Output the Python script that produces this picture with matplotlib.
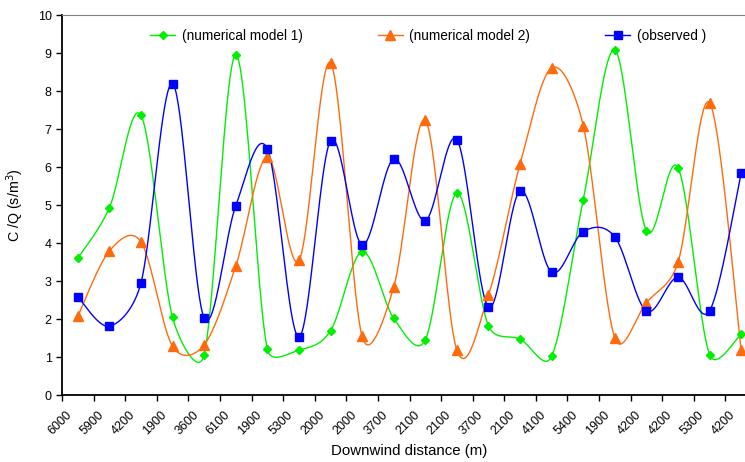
import numpy as np
import matplotlib
matplotlib.use("Agg")
import matplotlib.pyplot as plt
from matplotlib.lines import Line2D

plt.rcParams['font.family'] = ['Liberation Sans', 'DejaVu Sans']

distances = ["6000", "5900", "4200", "1900", "3600", "6100", "1900", "5300", "2000", "2000", "3700",
             "2100", "2100", "3700", "2100", "4100", "5400", "1900", "4200", "4200", "5300", "4200"]
model1 = [3.6, 4.93, 7.36, 2.04, 1.06, 8.95, 1.2, 1.18, 1.69, 3.77, 2.02,
          1.45, 5.31, 1.82, 1.47, 1.02, 5.14, 9.07, 4.32, 5.98, 1.06, 1.6]
model2 = [2.07, 3.79, 4.03, 1.28, 1.32, 3.39, 6.26, 3.54, 8.74, 1.54, 2.84,
          7.23, 1.18, 2.63, 6.08, 8.61, 7.09, 1.5, 2.43, 3.49, 7.69, 1.18]
observed = [2.58, 1.81, 2.95, 8.19, 2.03, 4.98, 6.48, 1.53, 6.69, 3.95, 6.21,
            4.59, 6.72, 2.31, 5.37, 3.23, 4.3, 4.16, 2.21, 3.1, 2.22, 5.84]

FIG_W, FIG_H = 745, 462
AX_L, AX_B, AX_W, AX_H = 62, 67, 695, 380


def smooth(xs, ys, sx, sy, n=40):
    """Excel-like smoothed line (Bezier, control arms limited to half the segment)."""
    P = np.column_stack([np.asarray(xs, float) * sx, np.asarray(ys, float) * sy])
    Pe = np.vstack([P[0], P, P[-1]])
    t = np.linspace(0, 1, n)[:, None]
    out = []
    for i in range(len(P) - 1):
        p0, p1, p2, p3 = Pe[i], Pe[i + 1], Pe[i + 2], Pe[i + 3]
        d12 = np.linalg.norm(p2 - p1)
        d02 = np.linalg.norm(p2 - p0)
        d13 = np.linalg.norm(p3 - p1)
        f = 1 / 6.0
        g = 1 / 6.0
        if d02 / 6.0 >= d12 / 2.0 and d02 > 0:
            f = d12 / 2.0 / d02
        if d13 / 6.0 >= d12 / 2.0 and d13 > 0:
            g = d12 / 2.0 / d13
        c1 = p1 + (p2 - p0) * f
        c2 = p2 - (p3 - p1) * g
        seg = ((1 - t) ** 3) * p1 + 3 * ((1 - t) ** 2) * t * c1 + 3 * (1 - t) * t ** 2 * c2 + t ** 3 * p2
        out.append(seg if i == 0 else seg[1:])
    out = np.vstack(out)
    return out[:, 0] / sx, out[:, 1] / sy


fig = plt.figure(figsize=(FIG_W / 100, FIG_H / 100), dpi=100)
ax = fig.add_axes([AX_L / FIG_W, AX_B / FIG_H, AX_W / FIG_W, AX_H / FIG_H])

x = np.arange(len(distances))
ncat = len(distances)
px_per_x = AX_W / ncat
px_per_y = AX_H / 10.0

series = [
    (model1, '#00EE00', 'D', 4.5, '(numerical model 1)'),
    (model2, '#FF6A0D', '^', 6.5, '(numerical model 2)'),
    (observed, '#0000FF', 's', 5.5, '(observed )'),
]
handles = []
for ys, col, mk, ms, lab in series:
    cx, cy = smooth(x, ys, px_per_x, px_per_y)
    ax.plot(cx, cy, color=col, lw=1.0, zorder=2)
    ax.plot(x, ys, ls='none', marker=mk, ms=ms, color=col, mec=col, zorder=3)
    handles.append(Line2D([0], [0], color=col, lw=1.0, marker=mk, ms=ms, mec=col, label=lab))

ax.set_xlim(-0.5, ncat - 0.5)
ax.set_ylim(0, 10)
ax.set_yticks(np.arange(0, 11, 1))
ax.set_xticks(np.arange(-0.5, ncat, 1.0))
ax.set_xticklabels([])
# label anchors nudged left so the rotated text ends just left of each category centre
ax.set_xticks(x - 0.37, minor=True)
ax.set_xticklabels(distances, minor=True, rotation=45, ha='right', va='top',
                   rotation_mode='anchor', fontsize=9)
ax.tick_params(axis='x', which='minor', length=0, pad=10)
ax.tick_params(axis='x', which='major', length=4, width=1, direction='out')
ax.tick_params(axis='y', length=4, width=1, direction='out', labelsize=9)

ax.spines['right'].set_visible(False)
ax.spines['top'].set_color('#808080')
ax.spines['left'].set_linewidth(1.3)
ax.spines['bottom'].set_linewidth(1.3)

ax.set_xlabel('Downwind distance (m)', fontsize=10.8, labelpad=5)
ax.set_ylabel('C /Q (s/m$^3$)', fontsize=10.3, labelpad=8)

fig.legend(handles=handles, loc='upper left', bbox_to_anchor=(150 / FIG_W, 1 - 29 / FIG_H), ncol=3,
           frameon=False, fontsize=9.8, handlelength=1.84, columnspacing=5.5,
           handletextpad=0.5, borderaxespad=0, borderpad=0)

fig.savefig('out.png', dpi=100)
